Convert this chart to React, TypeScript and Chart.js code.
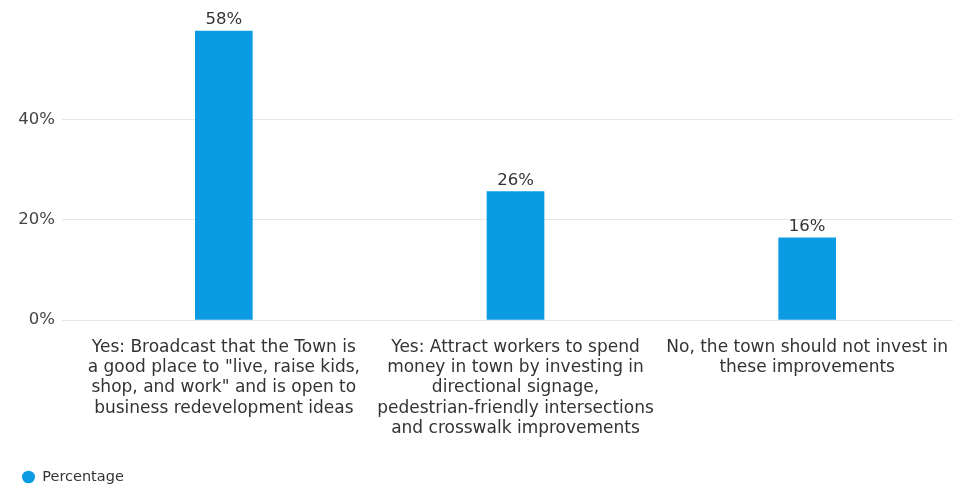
import React, { useEffect, useRef } from "react";
import { Chart, registerables } from "chart.js";

Chart.register(...registerables);

const categories: string[][] = [
  ["Yes: Broadcast that the Town is", "a good place to \"live, raise kids,", "shop, and work\" and is open to", "business redevelopment ideas"],
  ["Yes: Attract workers to spend", "money in town by investing in", "directional signage,", "pedestrian-friendly intersections", "and crosswalk improvements"],
  ["No, the town should not invest in", "these improvements"],
];
const percentages: number[] = [57.6, 25.6, 16.4];
const yTicks: number[] = [0, 20, 40];
const seriesName = "Percentage";

const FONT = "'DejaVu Sans', sans-serif";
const BAR = "#0b9be2";

const valueLabels = {
  id: "valueLabels",
  afterDatasetsDraw(chart: any) {
    const ctx = chart.ctx;
    const meta = chart.getDatasetMeta(0);
    const data = chart.data.datasets[0].data as number[];
    ctx.save();
    ctx.font = `16.5px ${FONT}`;
    ctx.fillStyle = "#333";
    ctx.textAlign = "center";
    ctx.textBaseline = "alphabetic";
    meta.data.forEach((el: any, i: number) => {
      ctx.fillText(Math.round(data[i]) + "%", el.x, el.y - 7);
    });
    ctx.restore();
  },
};

export default function App() {
  const ref = useRef<HTMLCanvasElement | null>(null);
  useEffect(() => {
    if (!ref.current) return;
    const chart = new Chart(ref.current, {
      type: "bar",
      data: {
        labels: categories as any,
        datasets: [
          {
            label: seriesName,
            data: percentages,
            backgroundColor: BAR,
            borderWidth: 0,
            barThickness: 57,
          },
        ],
      },
      options: {
        animation: false,
        responsive: true,
        maintainAspectRatio: false,
        layout: { padding: { left: 10, right: 8, top: 29, bottom: -9.25 } },
        plugins: {
          tooltip: { enabled: false },
          legend: {
            position: "bottom",
            align: "start",
            labels: {
              usePointStyle: true,
              pointStyle: "circle",
              boxWidth: 9,
              boxHeight: 9,
              pointStyleWidth: 13,
              padding: 12,
              color: "#333",
              font: { family: FONT, size: 14.5 },
            },
          },
        },
        scales: {
          x: {
            grid: { display: false, drawTicks: false },
            border: { display: false },
            ticks: {
              autoSkip: false,
              maxRotation: 0,
              minRotation: 0,
              padding: 17,
              color: "#333",
              font: { family: FONT, size: 17, lineHeight: 1.2 },
            },
            afterFit(scale: any) {
              scale.height = 137.75;
              scale.paddingLeft = 0;
              scale.paddingRight = 0;
            },
          },
          y: {
            min: 0,
            max: 58,
            grid: { color: "#e6e6e6", tickLength: 16, drawTicks: true },
            border: { display: false },
            ticks: {
              padding: 7,
              color: "#444",
              font: { family: FONT, size: 16.5 },
              callback: (v: any) => v + "%",
            },
            afterBuildTicks(scale: any) {
              scale.ticks = yTicks.map((v) => ({ value: v }));
            },
            afterFit(scale: any) {
              scale.width = 68;
              scale.paddingTop = 0;
              scale.paddingBottom = 0;
            },
          },
        },
      },
      plugins: [valueLabels],
    });
    return () => chart.destroy();
  }, []);
  return (
    <div style={{ position: "absolute", left: 0, top: 0, width: 961, height: 485, background: "#fff" }}>
      <canvas ref={ref} />
    </div>
  );
}
